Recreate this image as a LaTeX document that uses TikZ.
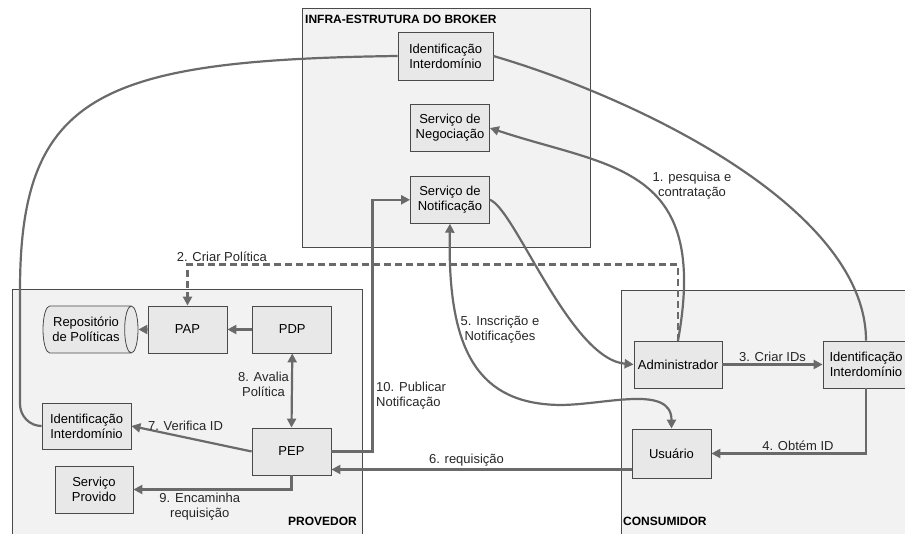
\documentclass[tikz,border=0pt]{standalone}
\usepackage{fontspec}
\setmainfont{Liberation Sans}
\usetikzlibrary{arrows.meta,positioning,shapes.geometric}
\definecolor{regionfill}{HTML}{F2F2F2}
\definecolor{boxfill}{HTML}{E8E8E8}
\definecolor{linegray}{HTML}{6A6A6A}
\definecolor{edgegray}{HTML}{4A4A4A}

\begin{document}
\begin{tikzpicture}[x=1pt,y=1pt,font=\fontsize{13}{15}\selectfont,
  region/.style={draw=edgegray,fill=regionfill,line width=0.7pt},
  regiontitle/.style={font=\fontsize{12}{14}\selectfont\bfseries,inner sep=0pt},
  box/.style={draw=edgegray,fill=boxfill,line width=0.8pt,minimum width=79pt,minimum height=47pt,align=center,inner sep=2pt},
  repo/.style={cylinder,draw=edgegray,fill=boxfill,line width=0.8pt,aspect=0.5,minimum height=95pt,minimum width=47pt,align=center,inner sep=1pt},
  lbl/.style={align=center,inner sep=2pt,text=black!85},
  link/.style={draw=linegray,line width=2.2pt},
  flow/.style={link,-{Triangle[length=9pt,width=9pt]}},
  both/.style={link,{Triangle[length=9pt,width=9pt]}-{Triangle[length=9pt,width=9pt]}},
  policy/.style={flow,dash pattern=on 7pt off 4pt}]
\useasboundingbox (0,0) rectangle (905,534);

\draw[region] (302,526) rectangle (590,287);
\draw[region] (12,245) rectangle (362,-5);
\draw[region] (621,244) rectangle (910,-5);
\node[regiontitle,anchor=west] (brokertitle) at (305,515) {INFRA-ESTRUTURA DO BROKER};
\node[regiontitle,anchor=east] (provtitle) at (357,13) {PROVEDOR};
\node[regiontitle,anchor=west] (constitle) at (623,13) {CONSUMIDOR};

\node[box,minimum width=95pt,minimum height=48pt] (bId) at (445.5,478) {Identificação\\Interdomínio};
\node[box] (neg) at (450,406) {Serviço de\\Negociação};
\node[box] (notif) [below=24pt of neg] {Serviço de\\Notificação};
\node[repo] (repo) at (86,204.5) {Repositório\\de Políticas};
\node[box] (pap) at (187.5,204.5) {PAP};
\node[box] (pdp) [right=25pt of pap] {PDP};
\node[box,minimum width=89pt,minimum height=46pt] (pId) at (86.5,108) {Identificação\\Interdomínio};
\node[box] (pep) at (291.5,82.5) {PEP};
\node[box,minimum width=78pt] (sprov) at (94,44.5) {Serviço\\Provido};
\node[box,minimum width=88pt] (adm) at (678,169.5) {Administrador};
\node[box,minimum width=86pt] (cId) at (866,169.5) {Identificação\\Interdomínio};
\node[box,minimum height=49pt] (usr) at (671.5,80.5) {Usuário};

\draw[flow] (adm.north) .. controls (710,370) and (610,366) .. (neg.east);
\node[lbl] (l1) at (692,348) {1. pesquisa e\\contratação};
\draw[link] (bId.east) .. controls (640,435) and (866,325) .. (cId.north);
\draw[link] (bId.west) .. controls (100,474) and (20,440) .. (20,244) -- (20,130) to[out=-90,in=180] (pId.west);
\draw[policy] (adm.north) -- ++(0,76) -| node[lbl,above,pos=0.465] (l2) {2. Criar Política} (pap.north);
\draw[flow] (adm.east) -- node[lbl,above] (l3) {3. Criar IDs} (cId.west);
\draw[flow] (cId.south) |- node[lbl,above,pos=0.72] (l4) {4. Obtém ID} (usr.east);
\draw[both] (notif.south) .. controls (447,180) and (480,130) .. (560,129) to[out=0,in=90] (usr.north);
\node[lbl] (l5) at (500,204) {5. Inscrição e\\Notificações};
\draw[flow] (notif.east) .. controls (515,325) and (570,175) .. (adm.west);
\draw[flow] ([yshift=-16pt]usr.west) -- node[lbl,above,pos=0.55] (l6) {6. requisição} ([yshift=-16pt]usr.west -| pep.east);
\draw[flow] (pep.west) -- node[lbl,above,pos=0.55,yshift=4pt] (l7) {7. Verifica ID} (pId.east);
\draw[both] (pdp.south) -- node[lbl,left,pos=0.42] (l8) {8. Avalia\\Política} (pep.north);
\draw[flow] (pep.south) |- node[lbl,below,pos=0.79] (l9) {9. Encaminha\\requisição} (sprov.east);
\draw[flow] (pep.east) -- ++(41,0) |- (notif.west);
\node[lbl,anchor=west,align=left] (l10) at (374,138) {10. Publicar\\Notificação};
\draw[flow] (pdp.west) -- (pap.east);
\draw[flow] (pap.west) -- (repo.east);
\end{tikzpicture}
\end{document}
